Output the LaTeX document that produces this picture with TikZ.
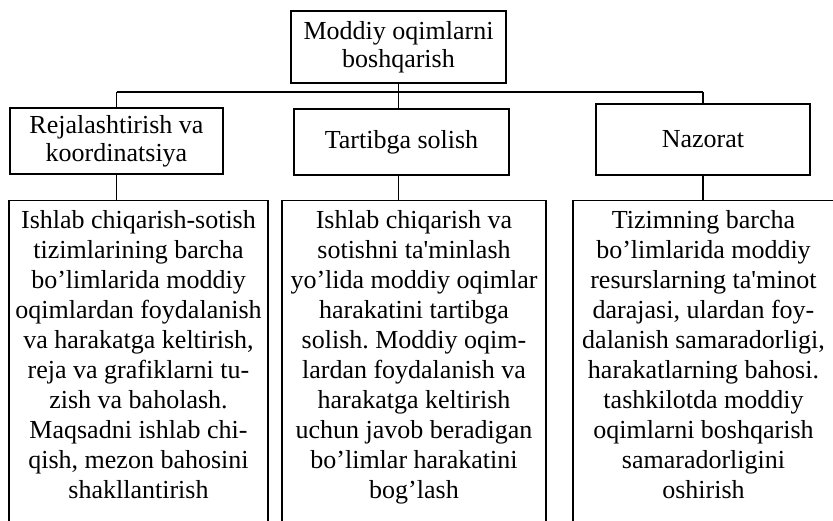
\documentclass[tikz,border=0pt]{standalone}
\usepackage{fontspec}
\setmainfont{Liberation Serif}[Ligatures=TeXOff]
\frenchspacing
\begin{document}
\begin{tikzpicture}[x=1pt,y=-1pt,line width=1.3pt,
  hbox/.style={draw,rectangle,inner sep=0pt,align=center,font=\fontsize{26}{28}\selectfont},
  frame/.style={draw,rectangle,inner sep=0pt,anchor=north,minimum height=360pt},
  body/.style={inner sep=0pt,anchor=north,align=center,font=\fontsize{26}{30}\selectfont}]
\useasboundingbox (0,0) rectangle (833,521);
\clip (0,0) rectangle (833,521);
% header boxes
\node[hbox,minimum width=215pt,minimum height=72pt] (top) at (398.5,47) {Moddiy oqimlarni\\boshqarish};
\node[hbox,minimum width=213pt,minimum height=66pt] (b1) at (116.5,141) {Rejalashtirish va\\koordinatsiya};
\node[hbox,minimum width=215pt,minimum height=66pt] (b2) at (401.5,142) {Tartibga solish};
\node[hbox,minimum width=214pt,minimum height=71pt] (b3) at (703,139.5) {Nazorat};
% lower frames (cut off by the page edge)
\node[frame,minimum width=259pt] (d1) at (138.5,200) {};
\node[frame,minimum width=264pt] (d2) at (414,200) {};
\node[frame,minimum width=261pt] (d3) at (703.5,200) {};
% lower texts
\node[body] (t1) at ([yshift=-10pt]d1.north) {Ishlab chiqarish-sotish\\tizimlarining barcha\\bo’limlarida moddiy\\oqimlardan foydalanish\\va harakatga keltirish,\\reja va grafiklarni tu-\\zish va baholash.\\Maqsadni ishlab chi-\\qish, mezon bahosini\\shakllantirish};
\node[body] (t2) at ([yshift=-10pt]d2.north) {Ishlab chiqarish va\\sotishni ta'minlash\\yo’lida moddiy oqimlar\\harakatini tartibga\\solish. Moddiy oqim-\\lardan foydalanish va\\harakatga keltirish\\uchun javob beradigan\\bo’limlar harakatini\\bog’lash};
\node[body] (t3) at ([yshift=-10pt]d3.north) {Tizimning barcha\\bo’limlarida moddiy\\resurslarning ta'minot\\darajasi, ulardan foy-\\dalanish samaradorligi,\\harakatlarning bahosi.\\tashkilotda moddiy\\oqimlarni boshqarish\\samaradorligini\\oshirish};
% connectors
\coordinate (bus) at (0,92);
\draw (top.south) -- (top.south |- bus);
\draw (b1.north |- bus) -- (b3.north |- bus);
\draw (b1.north |- bus) -- (b1.north);
\draw (top.south |- bus) -- (top.south |- b2.north);
\draw (b3.north |- bus) -- (b3.north);
\draw (b1.south) -- (b1.south |- d1.north);
\draw (top.south |- b2.south) -- (top.south |- d2.north);
\draw (b3.south) -- (b3.south |- d3.north);
\end{tikzpicture}
\end{document}
